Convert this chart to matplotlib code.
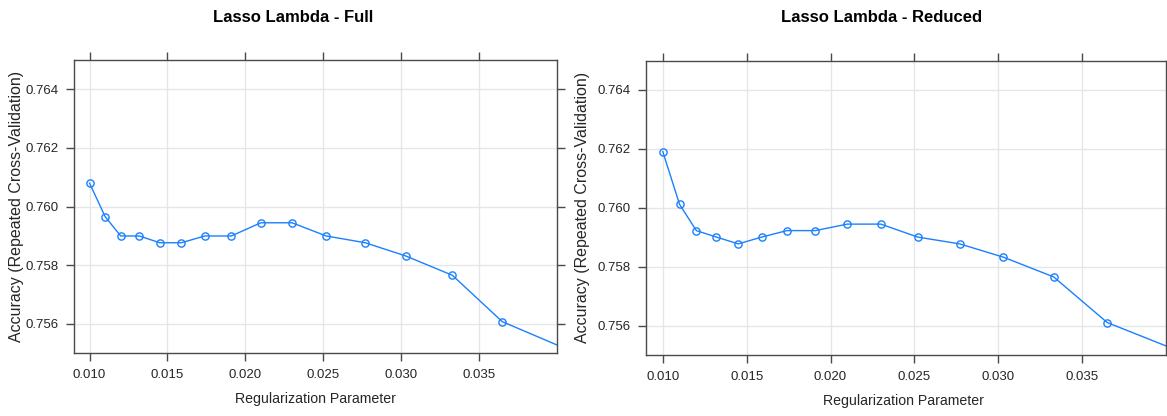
import matplotlib
matplotlib.use("Agg")
import matplotlib.pyplot as plt

plt.rcParams['font.family'] = ['Liberation Sans', 'DejaVu Sans']

# Regularization parameter values (lambda grid)
lambdas = [0.0100, 0.0110, 0.0120, 0.0132, 0.0145, 0.0159, 0.0174, 0.0191,
           0.0210, 0.0230, 0.0252, 0.0277, 0.0303, 0.0333, 0.0365, 0.0403]

acc_full = [0.76080, 0.75966, 0.75900, 0.75900, 0.75877, 0.75877, 0.75900, 0.75900,
            0.75945, 0.75945, 0.75900, 0.75877, 0.75832, 0.75766, 0.75608, 0.75522]

acc_reduced = [0.76191, 0.76012, 0.75923, 0.75901, 0.75878, 0.75901, 0.75923, 0.75923,
               0.75945, 0.75945, 0.75901, 0.75878, 0.75833, 0.75766, 0.75611, 0.75525]

titles = ["Lasso Lambda - Full", "Lasso Lambda - Reduced"]
xticks = [0.010, 0.015, 0.020, 0.025, 0.030, 0.035]
yticks = [0.756, 0.758, 0.760, 0.762, 0.764]
xlabel = "Regularization Parameter"
ylabel = "Accuracy (Repeated Cross-Validation)"

W, H = 1167, 416
fig = plt.figure(figsize=(W / 100, H / 100), dpi=100)

# panel boxes in pixel coordinates: left, top, right, bottom
boxes = [(74, 60, 556.7, 353.3), (646, 60.5, 1166, 355.3)]
title_x = [293, 882]
ylabel_x = [17, 583]
xlabel_x = [315, 903]

line_col = "#1a80ff"
frame_col = "#4a4a4a"
text_col = "#262626"

for i, (vals, ttl) in enumerate([(acc_full, titles[0]), (acc_reduced, titles[1])]):
    l, t, r, b = boxes[i]
    ax = fig.add_axes([l / W, (H - b) / H, (r - l) / W, (b - t) / H])
    ax.plot(lambdas, vals, color=line_col, lw=1.0, marker='o', ms=5.2,
            mfc='none', mec=line_col, mew=1.0, clip_on=True)
    ax.set_xlim(0.009, 0.040)
    ax.set_ylim(0.755, 0.765)
    ax.set_xticks(xticks)
    ax.set_xticklabels([f"{v:.3f}" for v in xticks])
    ax.set_yticks(yticks)
    ax.set_yticklabels([f"{v:.3f}" for v in yticks])
    ax.grid(True, color="#e6e6e6", lw=1.0)
    ax.set_axisbelow(True)
    for s in ax.spines.values():
        s.set_color(frame_col)
        s.set_linewidth(1.0)
    ax.tick_params(axis='both', which='both', direction='out', length=6, width=1.0,
                   color=frame_col, top=True, right=True, labeltop=False, labelright=False,
                   labelsize=9.5, labelcolor=text_col, pad=5)
    fig.text(xlabel_x[i] / W, (H - 399 - 2 * i) / H, xlabel, ha='center', va='center',
             fontsize=10.2, color=text_col)
    fig.text(ylabel_x[i] / W, ((H - b) + (b - t) / 2) / H, ylabel, rotation=90,
             ha='center', va='center', fontsize=11.5, color=text_col)
    fig.text(title_x[i] / W, (H - 18) / H, ttl, ha='center', va='center',
             fontsize=12, fontweight='bold', color='black')

fig.savefig("out.png", dpi=100)
